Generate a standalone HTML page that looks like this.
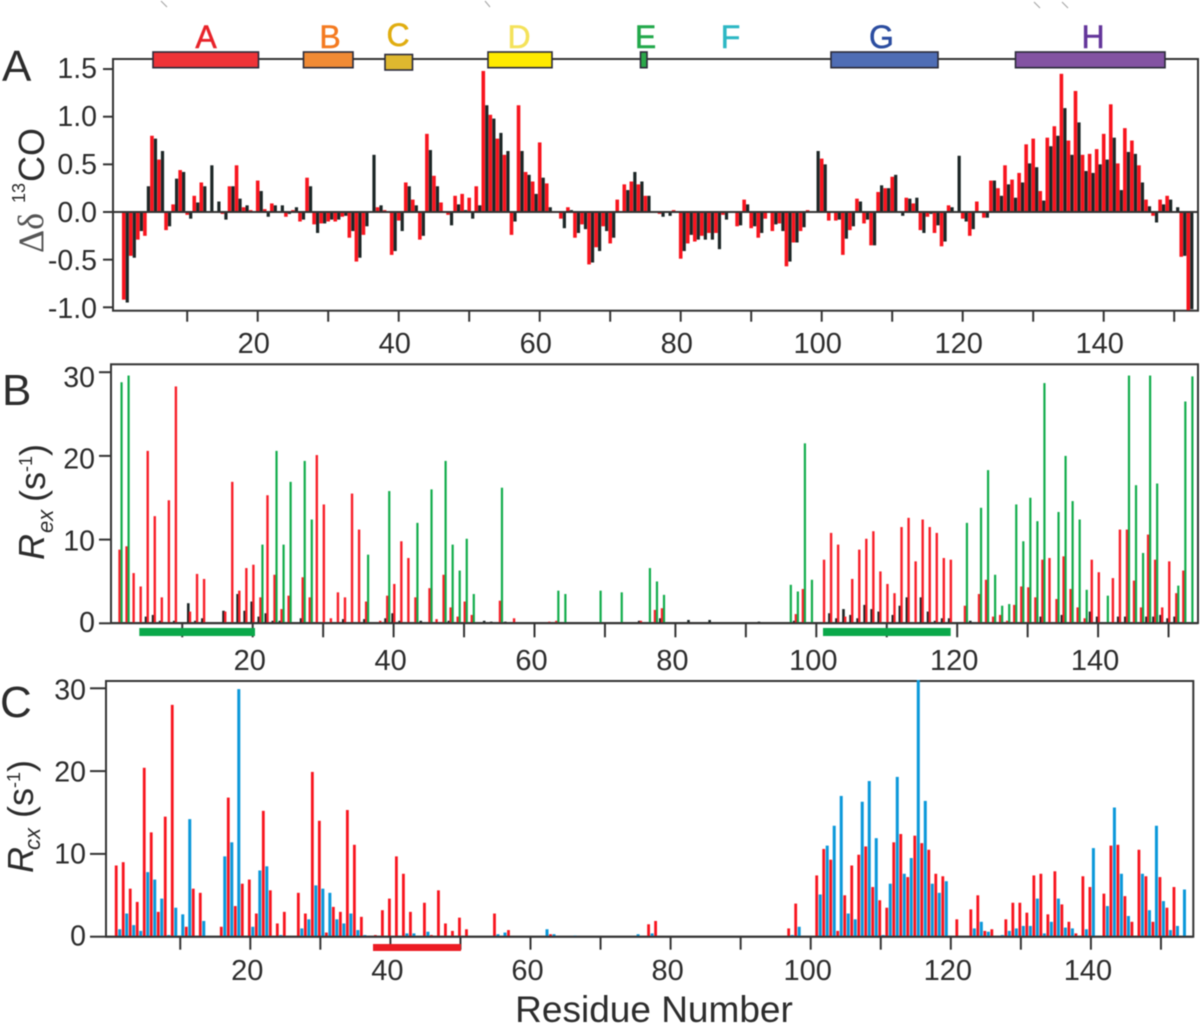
<!DOCTYPE html>
<html lang="en">
<head>
<meta charset="utf-8">
<title>Residue chart</title>
<style>
html,body{margin:0;padding:0;background:#fff;width:1200px;height:1026px;overflow:hidden}
svg{display:block;filter:blur(.4px)}
text{font-family:"Liberation Sans",sans-serif;fill:#2c2c2c}
</style>
</head>
<body>
<svg id="chart" xmlns="http://www.w3.org/2000/svg" width="1200" height="1026" viewBox="0 0 1200 1026">
  <rect x="0" y="0" width="1200" height="1026" fill="#fff"/>
  <g stroke="#aaa" stroke-width="1.2">
    <line x1="161" y1="1" x2="167" y2="7"/>
    <line x1="485" y1="1" x2="490" y2="7"/>
    <line x1="1034" y1="2" x2="1040" y2="8"/>
    <line x1="1062" y1="2" x2="1068" y2="8"/>
  </g>

  <g id="panelA">
    <rect x="113" y="59" width="1085" height="251.7" fill="none" stroke="#333" stroke-width="2"/>
    <g stroke="#2b2b3a" stroke-width="1.6">
      <rect x="153" y="52" width="105.5" height="15.7" fill="#ee3338"/>
      <rect x="303.5" y="52" width="49.5" height="15.7" fill="#f08a35"/>
      <rect x="385" y="54.5" width="27.5" height="15.5" fill="#dfb82f"/>
      <rect x="488" y="52" width="64" height="15.7" fill="#ffea00"/>
      <rect x="640.5" y="52" width="6.5" height="15.7" fill="#2ba84a"/>
      <rect x="831" y="52" width="107" height="15.7" fill="#4f6db5"/>
      <rect x="1015.5" y="52" width="149.5" height="15.7" fill="#8353a2"/>
    </g>
    <g font-size="32" text-anchor="middle" stroke-width=".5">
      <text x="206" y="48" stroke="#e8232a" style="fill:#e8232a">A</text>
      <text x="330" y="48" stroke="#f47a20" style="fill:#f47a20">B</text>
      <text x="398" y="46" stroke="#e0ad10" style="fill:#e0ad10">C</text>
      <text x="519" y="48" stroke="#f4e25a" style="fill:#f4e25a">D</text>
      <text x="645.5" y="48" stroke="#22a84a" style="fill:#22a84a">E</text>
      <text x="730.5" y="48" stroke="#2cb7c4" style="fill:#2cb7c4">F</text>
      <text x="881.5" y="48" stroke="#2b4da0" style="fill:#2b4da0">G</text>
      <text x="1093" y="48" stroke="#63359a" style="fill:#63359a">H</text>
    </g>
    <text x="2" y="81" font-size="44">A</text>
    <text transform="translate(43,253) rotate(-90)" font-size="36" style="font-family:'Liberation Serif',serif;fill:#555">Δδ</text>
    <text transform="translate(25,203) rotate(-90)" font-size="18">13</text>
    <text transform="translate(44,182) rotate(-90)" font-size="36">CO</text>
  </g>

  <g id="panelB">
    <rect x="111" y="364.3" width="1087" height="258.7" fill="none" stroke="#333" stroke-width="2"/>
    <text x="2" y="405" font-size="44">B</text>
    <text transform="translate(44,560) rotate(-90)" font-size="36" font-style="italic">R</text>
    <text transform="translate(53,533) rotate(-90)" font-size="22" font-style="italic">ex</text>
    <text transform="translate(45,502) rotate(-90)" font-size="36">(s<tspan font-size="18" dy="-13">-1</tspan><tspan dy="13">)</tspan></text>
  </g>

  <g id="panelC">
    <rect x="106" y="681" width="1087.3" height="255.7" fill="none" stroke="#333" stroke-width="2"/>
    <text x="0" y="717" font-size="44">C</text>
    <text transform="translate(33,873) rotate(-90)" font-size="36" font-style="italic">R</text>
    <text transform="translate(40,850) rotate(-90)" font-size="22" font-style="italic">cx</text>
    <text transform="translate(33,818) rotate(-90)" font-size="36">(s<tspan font-size="18" dy="-13">-1</tspan><tspan dy="13">)</tspan></text>
    <text x="654" y="1022" font-size="37" text-anchor="middle">Residue Number</text>
  </g>
</svg>
<script>
// Panel A: delta 13CO per residue (1..152)
const panelAYTicks = [1.5, 1.0, 0.5, 0.0, -0.5, -1.0];
const panelARed = [
-.92,-.46,-.29,-.25,.8,.55,-.19,.08,.44,-.03,
.17,.31,0,0,-.02,.27,.49,.05,.02,.33,
.03,.09,0,-.05,.02,-.1,.36,-.13,-.12,-.1,
-.1,-.05,-.27,-.52,-.24,0,.05,.02,-.45,-.09,
.31,.13,-.29,.82,.38,.1,-.03,.17,.19,.15,
.27,1.48,1.02,.77,.6,-.24,1.12,.42,.32,.73,
.3,0,-.07,.05,-.27,-.13,-.55,-.37,-.15,-.33,
.13,.29,.32,.29,.17,0,-.02,0,.02,-.49,
-.33,-.31,-.25,-.22,-.22,-.03,0,-.15,.13,-.17,
-.27,-.07,-.2,-.12,-.57,-.32,-.2,.02,0,.56,
-.09,-.09,-.45,-.19,.14,-.12,-.35,.21,.25,.37,
-.01,.15,.09,-.19,-.05,-.22,-.36,.07,0,-.07,
-.25,.11,-.06,.33,.25,.49,.34,.41,.71,.77,
.22,.78,.9,1.45,.75,1.27,.6,.61,.66,.82,
1.13,.51,.88,.75,.49,.13,-.04,.13,.17,0,-.47,-1.03];
const panelABlack = [
-.95,-.48,-.2,.27,.77,.64,-.15,.35,.42,-.07,
.1,.27,.49,.11,-.08,.27,.14,.07,.01,.22,
-.05,.07,.07,-.02,.05,-.08,.27,-.22,-.12,-.08,
-.08,-.04,-.2,-.48,-.15,.6,.07,0,-.41,-.2,
.27,.07,-.25,.65,.27,0,-.14,.08,.02,-.07,
.07,1.12,.98,.83,.64,-.1,.64,.39,.19,.36,
.05,0,-.17,.02,-.22,-.18,-.53,-.41,-.2,-.27,
0,.23,.42,.32,.17,0,-.05,-.04,0,-.41,
-.24,-.29,-.29,-.29,-.39,-.08,.01,-.14,.08,-.15,
-.22,0,-.13,-.2,-.52,-.32,-.16,0,.64,.5,
0,-.08,-.28,-.15,.11,-.08,-.35,.28,.25,.39,
-.04,.14,.15,-.22,-.02,-.14,-.31,.05,.59,-.1,
-.18,.01,-.06,.33,.17,.29,.15,.31,.51,.47,
.12,.69,.8,1.09,.6,.94,.43,.41,.5,.55,
.78,.23,.63,.61,.31,.06,-.11,.08,.13,.05,-.46,-1.02];

// Panel B: Rex per residue (1..153)
const panelBYTicks = [30, 20, 10, 0];
const panelBRed = [
8.8,9.2,6,4.4,20.6,12.8,3.1,14.7,28.3,0,
1.4,5.9,5.3,0,0,1.4,16.9,3.9,6.6,7,
3.1,15.3,5.8,1.7,3.3,0,5.5,3.1,20.1,14.2,
.6,3.7,3.1,15.5,11.2,2.6,0,.3,3.3,4.7,
9.8,7.8,3.1,0,4.2,.5,5.8,1.9,.8,2.6,
1,0,0,0,2.7,.1,.6,0,0,0,
.1,.2,.3,0,0,0,0,0,.1,0,
0,.1,0,0,.3,0,1.6,1.8,0,0,
0,.1,0,0,0,0,0,0,0,0,
0,0,0,0,0,0,1.1,4.1,0,0,
7.6,10.8,9.4,.8,5.3,8.8,10.1,11,6.2,4.7,
3.6,11.5,12.6,7.4,12.4,11.5,10.8,7.8,7.6,0,
2.1,0,3.5,5.2,.8,1,.3,2.2,4.4,4.3,
3.1,7.6,7.8,2.9,8,4.1,1.9,.6,7.6,6.1,
0,5.4,11.2,11.2,5.1,1.9,10.6,7.6,1.9,7.4,
3.6,6.3,0];
const panelBBlack = [
0,0,0,0,.8,1,.3,0,.3,0,
2.4,.3,.6,0,0,1.5,0,3.5,1.5,2.6,
.8,1.2,.3,.3,0,0,.6,0,0,0,
0,0,.5,0,0,.5,0,0,.6,1.2,
.3,0,0,.3,0,0,0,.3,0,0,
0,0,.3,.2,0,.2,0,0,0,0,
0,0,0,0,0,0,0,0,0,0,
0,0,0,0,.3,0,0,.6,0,0,
0,.4,0,0,.4,0,0,0,0,0,
0,.2,0,0,0,0,.3,0,0,0,
0,1.2,.6,1.7,1,.6,2.2,1.7,1.4,0,
1,2.1,3.1,0,3.1,1.4,.3,.6,.6,0,
0,.3,0,0,0,0,0,0,0,0,
0,.8,0,0,1,0,0,0,1.4,.8,
0,0,.8,.8,0,0,.8,.8,1,.6,
.8,0,0];
const panelBGreen = [
28.8,29.6,0,0,0,0,0,0,0,0,
0,0,0,0,0,0,0,0,0,0,
9.4,0,20.6,9.4,16.9,0,19.4,12.4,0,0,
0,0,0,0,0,8.2,0,0,15.8,0,
0,0,12,0,16,0,19.4,9.4,6.3,10.1,
3.5,0,0,0,16.2,0,0,0,0,0,
0,0,3.9,3.5,0,0,0,0,3.9,0,
0,3.7,0,0,0,6.6,5,3.4,0,0,
0,0,0,0,0,0,0,0,0,0,
0,0,0,0,0,4.6,3.8,21.5,5.2,0,
0,0,0,0,0,0,0,0,0,0,
0,0,0,0,0,0,0,0,0,0,
12,0,13.8,18.3,5.8,2.1,2.3,14.2,9.8,15,
12.2,28.7,0,13.3,20,14.6,12.4,4,0,0,
3.3,0,0,29.6,16.5,8.4,29.6,16.7,0,0,
4.5,26.5,29.5];

// Panel C: Rcx per residue (1..153)
const panelCYTicks = [30, 20, 10, 0];
const panelCRed = [
8.6,9,5.8,4.2,20.4,12.6,3,14.5,28,0,
1.2,5.8,5.3,0,0,1.2,16.8,3.7,6.4,6.9,
2.8,15.2,5.6,1.6,3,0,5.3,2.8,19.9,14,
.5,3.6,3,15.3,11.1,2.4,0,.2,3.2,4.6,
9.7,7.6,3,0,4.1,.2,5.6,1.6,.7,2.3,
.9,0,0,0,2.8,0,.8,0,0,0,
0,0,.3,0,0,0,0,0,0,0,
0,0,0,0,0,0,1.5,1.9,0,0,
0,0,0,0,0,0,0,0,0,0,
0,0,0,0,0,0,1,4,0,0,
7.4,10.6,9.3,.7,5,8.6,9.9,10.9,6,4.4,
3.5,11.4,12.4,7.2,12.2,11.3,10.5,7.6,7.3,0,
2.1,0,3.3,5,.7,.9,0,2.1,4.1,4.1,
2.9,7.4,7.6,2.7,7.9,3.9,1.8,.4,7.3,6,
0,5.2,11,11.1,4.9,1.8,10.5,7.3,1.8,7.2,
3.5,6,0];
const panelCBlue = [
.9,2.8,1.4,.7,7.8,6.9,4.6,.2,3.5,2.7,
14.2,0,1.9,0,0,9.7,11.4,29.9,0,1.2,
8,8.5,0,.2,0,0,1,2.1,6.2,5.8,
5.3,2.1,1.6,2.8,.8,.2,0,0,0,0,
0,.4,.4,0,.6,0,0,0,0,0,
0,0,0,0,.3,.5,0,0,0,0,
0,.9,.3,0,0,.15,0,0,0,0,
0,0,0,0,.3,0,.4,0,0,0,
0,0,0,0,0,0,0,0,0,0,
0,0,0,0,0,0,.2,1.2,0,0,
5.1,11,13.4,17,2.8,2.1,16.3,18.8,11.9,.2,
6.4,19.3,7.6,9.5,31,16.4,6.4,5.3,6.7,0,
0,0,1,1.8,.6,0,.2,.7,1,1.3,
1.3,4.6,.4,1.8,4.6,1.1,1,0,.9,10.7,
0,3.7,15.6,7.6,2.5,0,7.6,3.2,13.4,4.3,
.8,1.3,5.7];

// Shared x axis labels
const xTickResidues = [10,20,30,40,50,60,70,80,90,100,110,120,130,140,150];
const xLabelResidues = [20,40,60,80,100,120,140];

const NS = 'http://www.w3.org/2000/svg';
const AXIS_COLOR = '#333';

function xA(r){ return 257.7 + (r - 20) * 7.05; }
function yA(v){ return 212 - v * 95.3; }
function labelYA(v){ return 222 - v * 96; }
function xB(r){ return 252.7 + (r - 20) * 7.045; }
function yB(v){ return 623.3 - v * 8.37; }
function labelYB(v){ return 632 - v * 8.17; }
function xC(r){ return 250.3 + (r - 20) * 7.005; }
function yC(v){ return 936.7 - v * 8.28; }
function labelYC(v){ return 945.5 - v * 8.2; }

function drawBars(parent, values, xFn, yFn, offset, width, color, seriesName){
  const group = document.createElementNS(NS, 'g');
  
  
  values.forEach(function(v, i){
    if (v === 0) return;
    const cx = xFn(i + 1) + offset;
    const y0 = yFn(0);
    const y1 = yFn(v);
    const bar = document.createElementNS(NS, 'rect');
    
    
    bar.setAttribute('x', (cx - width / 2).toFixed(2));
    bar.setAttribute('y', Math.min(y0, y1).toFixed(2));
    bar.setAttribute('width', width);
    bar.setAttribute('height', Math.abs(y1 - y0).toFixed(2));
    bar.setAttribute('fill', color);
    group.appendChild(bar);
  });
  parent.appendChild(group);
}

function drawLine(parent, x1, y1, x2, y2){
  const line = document.createElementNS(NS, 'line');
  
  
  line.setAttribute('x1', x1);
  line.setAttribute('y1', y1);
  line.setAttribute('x2', x2);
  line.setAttribute('y2', y2);
  line.setAttribute('stroke', AXIS_COLOR);
  line.setAttribute('stroke-width', '2');
  parent.appendChild(line);
}

function drawLabel(parent, x, y, text, anchor, size){
  const label = document.createElementNS(NS, 'text');
  
  
  label.setAttribute('x', x);
  label.setAttribute('y', y);
  label.setAttribute('text-anchor', anchor);
  label.setAttribute('font-size', size);
  label.textContent = text;
  parent.appendChild(label);
}

function drawRegionBar(parent, name, x, y, width, height, color){
  const region = document.createElementNS(NS, 'rect');
  
  
  region.setAttribute('x', x);
  region.setAttribute('y', y);
  region.setAttribute('width', width);
  region.setAttribute('height', height);
  region.setAttribute('fill', color);
  parent.appendChild(region);
}

function drawAxes(parent, opt){
  drawLine(parent, opt.left, opt.yFn(0), opt.right, opt.yFn(0));
  xTickResidues.forEach(function(r){
    drawLine(parent, opt.xFn(r), opt.bottom, opt.xFn(r), opt.bottom + opt.tickLen);
  });
  xLabelResidues.forEach(function(r){
    drawLabel(parent, opt.xFn(r) + opt.labelShift, opt.labelY, String(r), 'middle', 29);
  });
  opt.yTicks.forEach(function(v){
    const y = opt.yFn(v);
    drawLine(parent, opt.left - opt.yTickLen, y, opt.left, y);
    drawLabel(parent, opt.left - opt.yLabelGap, opt.yLabelFn(v), opt.decimals ? v.toFixed(1) : String(v), 'end', 28.5);
  });
}

const panelA = document.getElementById('panelA');
drawBars(panelA, panelARed, xA, yA, 0, 3.6, '#f8141e', 'series-a-red');
drawBars(panelA, panelABlack, xA, yA, 3.5, 3.2, '#1c2626', 'series-a-black');
drawAxes(panelA, {xFn:xA, yFn:yA, yLabelFn:labelYA, left:113, right:1198, bottom:310.7, tickLen:11, labelShift:-4, labelY:353, yTicks:panelAYTicks, yTickLen:10, yLabelGap:16, decimals:true});

const panelB = document.getElementById('panelB');
drawBars(panelB, panelBBlack, xB, yB, -1, 2.6, '#1c2626', 'series-b-black');
drawBars(panelB, panelBRed, xB, yB, 0.7, 2.4, '#f8202a', 'series-b-red');
drawBars(panelB, panelBGreen, xB, yB, 2.7, 2.2, '#12ad4c', 'series-b-green');
drawAxes(panelB, {xFn:xB, yFn:yB, yLabelFn:labelYB, left:111, right:1198, bottom:623.3, tickLen:14, labelShift:-3, labelY:670, yTicks:panelBYTicks, yTickLen:12, yLabelGap:16, decimals:false});
drawRegionBar(panelB, 'green-region-bar-n-term', 139.3, 628, 115.7, 8, '#0aa84a');
drawRegionBar(panelB, 'green-region-bar-middle', 823, 628, 127.7, 8, '#0aa84a');

const panelC = document.getElementById('panelC');
drawBars(panelC, panelCRed, xC, yC, -1, 2.8, '#f8141e', 'series-c-red');
drawBars(panelC, panelCBlue, xC, yC, 2.5, 3, '#0a98da', 'series-c-blue');
drawAxes(panelC, {xFn:xC, yFn:yC, yLabelFn:labelYC, left:106, right:1193.3, bottom:936.7, tickLen:13, labelShift:-3, labelY:980, yTicks:panelCYTicks, yTickLen:16, yLabelGap:20, decimals:false});
drawRegionBar(panelC, 'red-region-bar', 373, 944, 88, 7, '#ec1c24');
</script>
</body>
</html>
